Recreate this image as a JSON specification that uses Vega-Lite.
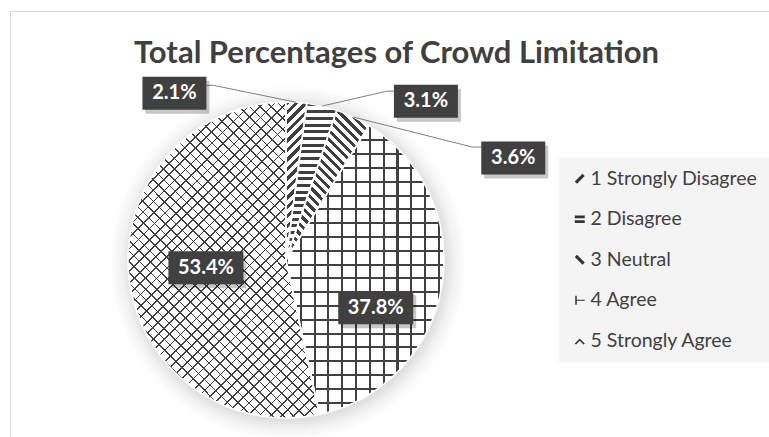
{
  "$schema": "https://vega.github.io/schema/vega-lite/v6.json",
  "width": 759,
  "height": 426,
  "autosize": {"type": "none"},
  "padding": {"left": 10, "top": 11, "right": 0, "bottom": 0},
  "background": "#ffffff",
  "config": {"view": {"stroke": "#d9d9d9", "strokeWidth": 1}, "font": "Lato"},
  "title": {
    "text": "Total Percentages of Crowd Limitation",
    "font": "Lato", "fontSize": 31, "fontWeight": "bold", "color": "#404040",
    "anchor": "middle", "frame": "group", "baseline": "alphabetic", "offset": -83, "dx": 7
  },
  "data": {"values": [
    {"category": "1 Strongly Disagree", "share": 0.021},
    {"category": "2 Disagree", "share": 0.031},
    {"category": "3 Neutral", "share": 0.036},
    {"category": "4 Agree", "share": 0.378},
    {"category": "5 Strongly Agree", "share": 0.534}
  ]},
  "transform": [
    {"window": [{"op": "sum", "field": "share", "as": "cum"}], "sort": [{"field": "category", "order": "ascending"}], "frame": [null, 0]},
    {"calculate": "datum.cum - datum.share", "as": "cum0"},
    {"calculate": "2 * PI * (datum.cum0 + datum.share / 2)", "as": "mid_angle"},
    {"calculate": "158 * sin(datum.mid_angle)", "as": "rim_x"},
    {"calculate": "158 * cos(datum.mid_angle)", "as": "rim_y"},
    {"calculate": "datum.rim_x + (datum.category === '1 Strongly Disagree' ? -122 : datum.category === '2 Disagree' ? 104 : datum.category === '3 Neutral' ? 160 : datum.category === '4 Agree' ? -66 : 77)", "as": "label_x"},
    {"calculate": "datum.rim_y + (datum.category === '1 Strongly Disagree' ? 9 : datum.category === '2 Disagree' ? 5 : datum.category === '3 Neutral' ? -41 : datum.category === '4 Agree' ? -21 : 9)", "as": "label_y"},
    {"calculate": "datum.share < 0.1 ? 32 : 37.5", "as": "box_half"}
  ],
  "layer": [
    {
      "transform": [{"aggregate": [{"op": "min", "field": "cum0", "as": "pie_start"}, {"op": "max", "field": "cum", "as": "pie_end"}]}],
      "mark": {
        "type": "arc", "outerRadius": 178, "xOffset": 2, "yOffset": 3,
        "fill": {"gradient": "radial", "x1": 0.5, "y1": 0.5, "r1": 0, "x2": 0.5, "y2": 0.5, "r2": 0.5,
          "stops": [{"offset": 0, "color": "#e0e0e0"}, {"offset": 0.885, "color": "#e0e0e0"}, {"offset": 0.935, "color": "#f2f2f2"}, {"offset": 1, "color": "#ffffff"}]}
      },
      "encoding": {
        "x": {"datum": 0, "type": "quantitative", "scale": {"domain": [-276, 483], "nice": false, "zero": false}, "axis": null},
        "y": {"datum": 0, "type": "quantitative", "scale": {"domain": [-177, 249], "nice": false, "zero": false}, "axis": null},
        "theta": {"field": "pie_start", "type": "quantitative", "stack": null, "scale": {"domain": [0, 1]}},
        "theta2": {"field": "pie_end"}
      }
    },
    {
      "encoding": {
        "x": {"datum": 0, "type": "quantitative", "scale": {"domain": [-276, 483], "nice": false, "zero": false}, "axis": null},
        "y": {"datum": 0, "type": "quantitative", "scale": {"domain": [-177, 249], "nice": false, "zero": false}, "axis": null},
        "theta": {"field": "cum0", "type": "quantitative", "stack": null, "scale": {"domain": [0, 1]}},
        "theta2": {"field": "cum"}
      },
      "layer": [
        {
          "mark": {"type": "arc", "outerRadius": 100},
          "encoding": {
            "color": {
              "field": "category", "type": "nominal", "scale": {"range": ["#333333"]},
              "legend": {
                "title": null, "orient": "none", "legendX": 549, "legendY": 147,
                "fillColor": "#f4f4f4", "padding": 11,
                "labelFont": "Lato", "labelFontSize": 19.5, "labelColor": "#404040", "labelLimit": 300,
                "labelOffset": 1, "rowPadding": 19.5, "symbolSize": 100,
                "encode": {"symbols": {"update": {
                  "shape": {"signal": "datum.value === '1 Strongly Disagree' ? 'M-1,0.55L0.55,-1L1,-0.55L-0.55,1Z' : datum.value === '2 Disagree' ? 'M-1,-0.75H1V-0.2H-1ZM-1,0.2H1V0.75H-1Z' : datum.value === '3 Neutral' ? 'M-1,-0.55L-0.55,-1L1,0.55L0.55,1Z' : datum.value === '4 Agree' ? 'M-0.9,-0.9H-0.6V-0.12H1V0.12H-0.6V0.9H-0.9Z' : 'M-1,0.55L0,-0.45L1,0.55L0.75,0.75L0,0L-0.75,0.75Z'"},
                  "strokeWidth": {"value": 0}
                }}}
              }
            }
          }
        },
        {"mark": {"type": "arc", "outerRadius": 158, "fill": "#ffffff"}},
        {
          "mark": {"type": "arc", "outerRadius": 158},
          "encoding": {
            "fill": {
              "condition": [
                {"test": "datum.category === '1 Strongly Disagree'", "value": {"gradient": "linear", "x1": 0, "y1": 0, "x2": 0.186, "y2": 1.415, "stops": [
                  {"offset":0,"color":"#3f3f3f"},{"offset":0.0188,"color":"#3f3f3f"},{"offset":0.0188,"color":"#fff"},{"offset":0.0417,"color":"#fff"},
                  {"offset":0.0417,"color":"#3f3f3f"},{"offset":0.0604,"color":"#3f3f3f"},{"offset":0.0604,"color":"#fff"},{"offset":0.0833,"color":"#fff"},
                  {"offset":0.0833,"color":"#3f3f3f"},{"offset":0.1021,"color":"#3f3f3f"},{"offset":0.1021,"color":"#fff"},{"offset":0.125,"color":"#fff"},
                  {"offset":0.125,"color":"#3f3f3f"},{"offset":0.1438,"color":"#3f3f3f"},{"offset":0.1438,"color":"#fff"},{"offset":0.1667,"color":"#fff"},
                  {"offset":0.1667,"color":"#3f3f3f"},{"offset":0.1854,"color":"#3f3f3f"},{"offset":0.1854,"color":"#fff"},{"offset":0.2083,"color":"#fff"},
                  {"offset":0.2083,"color":"#3f3f3f"},{"offset":0.2271,"color":"#3f3f3f"},{"offset":0.2271,"color":"#fff"},{"offset":0.25,"color":"#fff"},
                  {"offset":0.25,"color":"#3f3f3f"},{"offset":0.2688,"color":"#3f3f3f"},{"offset":0.2688,"color":"#fff"},{"offset":0.2917,"color":"#fff"},
                  {"offset":0.2917,"color":"#3f3f3f"},{"offset":0.3104,"color":"#3f3f3f"},{"offset":0.3104,"color":"#fff"},{"offset":0.3333,"color":"#fff"},
                  {"offset":0.3333,"color":"#3f3f3f"},{"offset":0.3521,"color":"#3f3f3f"},{"offset":0.3521,"color":"#fff"},{"offset":0.375,"color":"#fff"},
                  {"offset":0.375,"color":"#3f3f3f"},{"offset":0.3938,"color":"#3f3f3f"},{"offset":0.3938,"color":"#fff"},{"offset":0.4167,"color":"#fff"},
                  {"offset":0.4167,"color":"#3f3f3f"},{"offset":0.4354,"color":"#3f3f3f"},{"offset":0.4354,"color":"#fff"},{"offset":0.4583,"color":"#fff"},
                  {"offset":0.4583,"color":"#3f3f3f"},{"offset":0.4771,"color":"#3f3f3f"},{"offset":0.4771,"color":"#fff"},{"offset":0.5,"color":"#fff"},
                  {"offset":0.5,"color":"#3f3f3f"},{"offset":0.5188,"color":"#3f3f3f"},{"offset":0.5188,"color":"#fff"},{"offset":0.5417,"color":"#fff"},
                  {"offset":0.5417,"color":"#3f3f3f"},{"offset":0.5604,"color":"#3f3f3f"},{"offset":0.5604,"color":"#fff"},{"offset":0.5833,"color":"#fff"},
                  {"offset":0.5833,"color":"#3f3f3f"},{"offset":0.6021,"color":"#3f3f3f"},{"offset":0.6021,"color":"#fff"},{"offset":0.625,"color":"#fff"},
                  {"offset":0.625,"color":"#3f3f3f"},{"offset":0.6438,"color":"#3f3f3f"},{"offset":0.6438,"color":"#fff"},{"offset":0.6667,"color":"#fff"},
                  {"offset":0.6667,"color":"#3f3f3f"},{"offset":0.6854,"color":"#3f3f3f"},{"offset":0.6854,"color":"#fff"},{"offset":0.7083,"color":"#fff"},
                  {"offset":0.7083,"color":"#3f3f3f"},{"offset":0.7271,"color":"#3f3f3f"},{"offset":0.7271,"color":"#fff"},{"offset":0.75,"color":"#fff"},
                  {"offset":0.75,"color":"#3f3f3f"},{"offset":0.7688,"color":"#3f3f3f"},{"offset":0.7688,"color":"#fff"},{"offset":0.7917,"color":"#fff"},
                  {"offset":0.7917,"color":"#3f3f3f"},{"offset":0.8104,"color":"#3f3f3f"},{"offset":0.8104,"color":"#fff"},{"offset":0.8333,"color":"#fff"},
                  {"offset":0.8333,"color":"#3f3f3f"},{"offset":0.8521,"color":"#3f3f3f"},{"offset":0.8521,"color":"#fff"},{"offset":0.875,"color":"#fff"},
                  {"offset":0.875,"color":"#3f3f3f"},{"offset":0.8938,"color":"#3f3f3f"},{"offset":0.8938,"color":"#fff"},{"offset":0.9167,"color":"#fff"},
                  {"offset":0.9167,"color":"#3f3f3f"},{"offset":0.9354,"color":"#3f3f3f"},{"offset":0.9354,"color":"#fff"},{"offset":0.9583,"color":"#fff"},
                  {"offset":0.9583,"color":"#3f3f3f"},{"offset":0.9771,"color":"#3f3f3f"},{"offset":0.9771,"color":"#fff"},{"offset":1,"color":"#fff"}]}},
                {"test": "datum.category === '2 Disagree'", "value": {"gradient": "linear", "x1": 0, "y1": 0, "x2": 0, "y2": 1.03, "stops": [
                  {"offset":0,"color":"#3f3f3f"},{"offset":0.0188,"color":"#3f3f3f"},{"offset":0.0188,"color":"#fff"},{"offset":0.0417,"color":"#fff"},
                  {"offset":0.0417,"color":"#3f3f3f"},{"offset":0.0604,"color":"#3f3f3f"},{"offset":0.0604,"color":"#fff"},{"offset":0.0833,"color":"#fff"},
                  {"offset":0.0833,"color":"#3f3f3f"},{"offset":0.1021,"color":"#3f3f3f"},{"offset":0.1021,"color":"#fff"},{"offset":0.125,"color":"#fff"},
                  {"offset":0.125,"color":"#3f3f3f"},{"offset":0.1438,"color":"#3f3f3f"},{"offset":0.1438,"color":"#fff"},{"offset":0.1667,"color":"#fff"},
                  {"offset":0.1667,"color":"#3f3f3f"},{"offset":0.1854,"color":"#3f3f3f"},{"offset":0.1854,"color":"#fff"},{"offset":0.2083,"color":"#fff"},
                  {"offset":0.2083,"color":"#3f3f3f"},{"offset":0.2271,"color":"#3f3f3f"},{"offset":0.2271,"color":"#fff"},{"offset":0.25,"color":"#fff"},
                  {"offset":0.25,"color":"#3f3f3f"},{"offset":0.2688,"color":"#3f3f3f"},{"offset":0.2688,"color":"#fff"},{"offset":0.2917,"color":"#fff"},
                  {"offset":0.2917,"color":"#3f3f3f"},{"offset":0.3104,"color":"#3f3f3f"},{"offset":0.3104,"color":"#fff"},{"offset":0.3333,"color":"#fff"},
                  {"offset":0.3333,"color":"#3f3f3f"},{"offset":0.3521,"color":"#3f3f3f"},{"offset":0.3521,"color":"#fff"},{"offset":0.375,"color":"#fff"},
                  {"offset":0.375,"color":"#3f3f3f"},{"offset":0.3938,"color":"#3f3f3f"},{"offset":0.3938,"color":"#fff"},{"offset":0.4167,"color":"#fff"},
                  {"offset":0.4167,"color":"#3f3f3f"},{"offset":0.4354,"color":"#3f3f3f"},{"offset":0.4354,"color":"#fff"},{"offset":0.4583,"color":"#fff"},
                  {"offset":0.4583,"color":"#3f3f3f"},{"offset":0.4771,"color":"#3f3f3f"},{"offset":0.4771,"color":"#fff"},{"offset":0.5,"color":"#fff"},
                  {"offset":0.5,"color":"#3f3f3f"},{"offset":0.5188,"color":"#3f3f3f"},{"offset":0.5188,"color":"#fff"},{"offset":0.5417,"color":"#fff"},
                  {"offset":0.5417,"color":"#3f3f3f"},{"offset":0.5604,"color":"#3f3f3f"},{"offset":0.5604,"color":"#fff"},{"offset":0.5833,"color":"#fff"},
                  {"offset":0.5833,"color":"#3f3f3f"},{"offset":0.6021,"color":"#3f3f3f"},{"offset":0.6021,"color":"#fff"},{"offset":0.625,"color":"#fff"},
                  {"offset":0.625,"color":"#3f3f3f"},{"offset":0.6438,"color":"#3f3f3f"},{"offset":0.6438,"color":"#fff"},{"offset":0.6667,"color":"#fff"},
                  {"offset":0.6667,"color":"#3f3f3f"},{"offset":0.6854,"color":"#3f3f3f"},{"offset":0.6854,"color":"#fff"},{"offset":0.7083,"color":"#fff"},
                  {"offset":0.7083,"color":"#3f3f3f"},{"offset":0.7271,"color":"#3f3f3f"},{"offset":0.7271,"color":"#fff"},{"offset":0.75,"color":"#fff"},
                  {"offset":0.75,"color":"#3f3f3f"},{"offset":0.7688,"color":"#3f3f3f"},{"offset":0.7688,"color":"#fff"},{"offset":0.7917,"color":"#fff"},
                  {"offset":0.7917,"color":"#3f3f3f"},{"offset":0.8104,"color":"#3f3f3f"},{"offset":0.8104,"color":"#fff"},{"offset":0.8333,"color":"#fff"},
                  {"offset":0.8333,"color":"#3f3f3f"},{"offset":0.8521,"color":"#3f3f3f"},{"offset":0.8521,"color":"#fff"},{"offset":0.875,"color":"#fff"},
                  {"offset":0.875,"color":"#3f3f3f"},{"offset":0.8938,"color":"#3f3f3f"},{"offset":0.8938,"color":"#fff"},{"offset":0.9167,"color":"#fff"},
                  {"offset":0.9167,"color":"#3f3f3f"},{"offset":0.9354,"color":"#3f3f3f"},{"offset":0.9354,"color":"#fff"},{"offset":0.9583,"color":"#fff"},
                  {"offset":0.9583,"color":"#3f3f3f"},{"offset":0.9771,"color":"#3f3f3f"},{"offset":0.9771,"color":"#fff"},{"offset":1,"color":"#fff"}]}},
                {"test": "datum.category === '3 Neutral'", "value": {"gradient": "linear", "x1": 0, "y1": 1, "x2": 0.645, "y2": -0.162, "stops": [
                  {"offset":0,"color":"#3f3f3f"},{"offset":0.0188,"color":"#3f3f3f"},{"offset":0.0188,"color":"#fff"},{"offset":0.0417,"color":"#fff"},
                  {"offset":0.0417,"color":"#3f3f3f"},{"offset":0.0604,"color":"#3f3f3f"},{"offset":0.0604,"color":"#fff"},{"offset":0.0833,"color":"#fff"},
                  {"offset":0.0833,"color":"#3f3f3f"},{"offset":0.1021,"color":"#3f3f3f"},{"offset":0.1021,"color":"#fff"},{"offset":0.125,"color":"#fff"},
                  {"offset":0.125,"color":"#3f3f3f"},{"offset":0.1438,"color":"#3f3f3f"},{"offset":0.1438,"color":"#fff"},{"offset":0.1667,"color":"#fff"},
                  {"offset":0.1667,"color":"#3f3f3f"},{"offset":0.1854,"color":"#3f3f3f"},{"offset":0.1854,"color":"#fff"},{"offset":0.2083,"color":"#fff"},
                  {"offset":0.2083,"color":"#3f3f3f"},{"offset":0.2271,"color":"#3f3f3f"},{"offset":0.2271,"color":"#fff"},{"offset":0.25,"color":"#fff"},
                  {"offset":0.25,"color":"#3f3f3f"},{"offset":0.2688,"color":"#3f3f3f"},{"offset":0.2688,"color":"#fff"},{"offset":0.2917,"color":"#fff"},
                  {"offset":0.2917,"color":"#3f3f3f"},{"offset":0.3104,"color":"#3f3f3f"},{"offset":0.3104,"color":"#fff"},{"offset":0.3333,"color":"#fff"},
                  {"offset":0.3333,"color":"#3f3f3f"},{"offset":0.3521,"color":"#3f3f3f"},{"offset":0.3521,"color":"#fff"},{"offset":0.375,"color":"#fff"},
                  {"offset":0.375,"color":"#3f3f3f"},{"offset":0.3938,"color":"#3f3f3f"},{"offset":0.3938,"color":"#fff"},{"offset":0.4167,"color":"#fff"},
                  {"offset":0.4167,"color":"#3f3f3f"},{"offset":0.4354,"color":"#3f3f3f"},{"offset":0.4354,"color":"#fff"},{"offset":0.4583,"color":"#fff"},
                  {"offset":0.4583,"color":"#3f3f3f"},{"offset":0.4771,"color":"#3f3f3f"},{"offset":0.4771,"color":"#fff"},{"offset":0.5,"color":"#fff"},
                  {"offset":0.5,"color":"#3f3f3f"},{"offset":0.5188,"color":"#3f3f3f"},{"offset":0.5188,"color":"#fff"},{"offset":0.5417,"color":"#fff"},
                  {"offset":0.5417,"color":"#3f3f3f"},{"offset":0.5604,"color":"#3f3f3f"},{"offset":0.5604,"color":"#fff"},{"offset":0.5833,"color":"#fff"},
                  {"offset":0.5833,"color":"#3f3f3f"},{"offset":0.6021,"color":"#3f3f3f"},{"offset":0.6021,"color":"#fff"},{"offset":0.625,"color":"#fff"},
                  {"offset":0.625,"color":"#3f3f3f"},{"offset":0.6438,"color":"#3f3f3f"},{"offset":0.6438,"color":"#fff"},{"offset":0.6667,"color":"#fff"},
                  {"offset":0.6667,"color":"#3f3f3f"},{"offset":0.6854,"color":"#3f3f3f"},{"offset":0.6854,"color":"#fff"},{"offset":0.7083,"color":"#fff"},
                  {"offset":0.7083,"color":"#3f3f3f"},{"offset":0.7271,"color":"#3f3f3f"},{"offset":0.7271,"color":"#fff"},{"offset":0.75,"color":"#fff"},
                  {"offset":0.75,"color":"#3f3f3f"},{"offset":0.7688,"color":"#3f3f3f"},{"offset":0.7688,"color":"#fff"},{"offset":0.7917,"color":"#fff"},
                  {"offset":0.7917,"color":"#3f3f3f"},{"offset":0.8104,"color":"#3f3f3f"},{"offset":0.8104,"color":"#fff"},{"offset":0.8333,"color":"#fff"},
                  {"offset":0.8333,"color":"#3f3f3f"},{"offset":0.8521,"color":"#3f3f3f"},{"offset":0.8521,"color":"#fff"},{"offset":0.875,"color":"#fff"},
                  {"offset":0.875,"color":"#3f3f3f"},{"offset":0.8938,"color":"#3f3f3f"},{"offset":0.8938,"color":"#fff"},{"offset":0.9167,"color":"#fff"},
                  {"offset":0.9167,"color":"#3f3f3f"},{"offset":0.9354,"color":"#3f3f3f"},{"offset":0.9354,"color":"#fff"},{"offset":0.9583,"color":"#fff"},
                  {"offset":0.9583,"color":"#3f3f3f"},{"offset":0.9771,"color":"#3f3f3f"},{"offset":0.9771,"color":"#fff"},{"offset":1,"color":"#fff"}]}},
                {"test": "datum.category === '4 Agree'", "value": {"gradient": "linear", "x1": 0, "y1": 0, "x2": 3.146, "y2": 0, "stops": [
                  {"offset":0,"color":"#404040"},{"offset":0.0042,"color":"#404040"},{"offset":0.0042,"color":"#0000"},{"offset":0.0278,"color":"#0000"},
                  {"offset":0.0278,"color":"#404040"},{"offset":0.032,"color":"#404040"},{"offset":0.032,"color":"#0000"},{"offset":0.0556,"color":"#0000"},
                  {"offset":0.0556,"color":"#404040"},{"offset":0.0598,"color":"#404040"},{"offset":0.0598,"color":"#0000"},{"offset":0.0833,"color":"#0000"},
                  {"offset":0.0833,"color":"#404040"},{"offset":0.0875,"color":"#404040"},{"offset":0.0875,"color":"#0000"},{"offset":0.1111,"color":"#0000"},
                  {"offset":0.1111,"color":"#404040"},{"offset":0.1153,"color":"#404040"},{"offset":0.1153,"color":"#0000"},{"offset":0.1389,"color":"#0000"},
                  {"offset":0.1389,"color":"#404040"},{"offset":0.1431,"color":"#404040"},{"offset":0.1431,"color":"#0000"},{"offset":0.1667,"color":"#0000"},
                  {"offset":0.1667,"color":"#404040"},{"offset":0.1709,"color":"#404040"},{"offset":0.1709,"color":"#0000"},{"offset":0.1944,"color":"#0000"},
                  {"offset":0.1944,"color":"#404040"},{"offset":0.1986,"color":"#404040"},{"offset":0.1986,"color":"#0000"},{"offset":0.2222,"color":"#0000"},
                  {"offset":0.2222,"color":"#404040"},{"offset":0.2264,"color":"#404040"},{"offset":0.2264,"color":"#0000"},{"offset":0.25,"color":"#0000"},
                  {"offset":0.25,"color":"#404040"},{"offset":0.2542,"color":"#404040"},{"offset":0.2542,"color":"#0000"},{"offset":0.2778,"color":"#0000"},
                  {"offset":0.2778,"color":"#404040"},{"offset":0.282,"color":"#404040"},{"offset":0.282,"color":"#0000"},{"offset":0.3056,"color":"#0000"},
                  {"offset":0.3056,"color":"#404040"},{"offset":0.3098,"color":"#404040"},{"offset":0.3098,"color":"#0000"},{"offset":0.3333,"color":"#0000"},
                  {"offset":0.3333,"color":"#404040"},{"offset":0.3375,"color":"#404040"},{"offset":0.3375,"color":"#0000"},{"offset":0.3611,"color":"#0000"},
                  {"offset":0.3611,"color":"#404040"},{"offset":0.3653,"color":"#404040"},{"offset":0.3653,"color":"#0000"},{"offset":0.3889,"color":"#0000"},
                  {"offset":0.3889,"color":"#404040"},{"offset":0.3931,"color":"#404040"},{"offset":0.3931,"color":"#0000"},{"offset":0.4167,"color":"#0000"},
                  {"offset":0.4167,"color":"#404040"},{"offset":0.4209,"color":"#404040"},{"offset":0.4209,"color":"#0000"},{"offset":0.4444,"color":"#0000"},
                  {"offset":0.4444,"color":"#404040"},{"offset":0.4486,"color":"#404040"},{"offset":0.4486,"color":"#0000"},{"offset":0.4722,"color":"#0000"},
                  {"offset":0.4722,"color":"#404040"},{"offset":0.4764,"color":"#404040"},{"offset":0.4764,"color":"#0000"},{"offset":0.5,"color":"#0000"},
                  {"offset":0.5,"color":"#404040"},{"offset":0.5042,"color":"#404040"},{"offset":0.5042,"color":"#0000"},{"offset":0.5278,"color":"#0000"},
                  {"offset":0.5278,"color":"#404040"},{"offset":0.532,"color":"#404040"},{"offset":0.532,"color":"#0000"},{"offset":0.5556,"color":"#0000"},
                  {"offset":0.5556,"color":"#404040"},{"offset":0.5598,"color":"#404040"},{"offset":0.5598,"color":"#0000"},{"offset":0.5833,"color":"#0000"},
                  {"offset":0.5833,"color":"#404040"},{"offset":0.5875,"color":"#404040"},{"offset":0.5875,"color":"#0000"},{"offset":0.6111,"color":"#0000"},
                  {"offset":0.6111,"color":"#404040"},{"offset":0.6153,"color":"#404040"},{"offset":0.6153,"color":"#0000"},{"offset":0.6389,"color":"#0000"},
                  {"offset":0.6389,"color":"#404040"},{"offset":0.6431,"color":"#404040"},{"offset":0.6431,"color":"#0000"},{"offset":0.6667,"color":"#0000"},
                  {"offset":0.6667,"color":"#404040"},{"offset":0.6709,"color":"#404040"},{"offset":0.6709,"color":"#0000"},{"offset":0.6944,"color":"#0000"},
                  {"offset":0.6944,"color":"#404040"},{"offset":0.6986,"color":"#404040"},{"offset":0.6986,"color":"#0000"},{"offset":0.7222,"color":"#0000"},
                  {"offset":0.7222,"color":"#404040"},{"offset":0.7264,"color":"#404040"},{"offset":0.7264,"color":"#0000"},{"offset":0.75,"color":"#0000"},
                  {"offset":0.75,"color":"#404040"},{"offset":0.7542,"color":"#404040"},{"offset":0.7542,"color":"#0000"},{"offset":0.7778,"color":"#0000"},
                  {"offset":0.7778,"color":"#404040"},{"offset":0.782,"color":"#404040"},{"offset":0.782,"color":"#0000"},{"offset":0.8056,"color":"#0000"},
                  {"offset":0.8056,"color":"#404040"},{"offset":0.8098,"color":"#404040"},{"offset":0.8098,"color":"#0000"},{"offset":0.8333,"color":"#0000"},
                  {"offset":0.8333,"color":"#404040"},{"offset":0.8375,"color":"#404040"},{"offset":0.8375,"color":"#0000"},{"offset":0.8611,"color":"#0000"},
                  {"offset":0.8611,"color":"#404040"},{"offset":0.8653,"color":"#404040"},{"offset":0.8653,"color":"#0000"},{"offset":0.8889,"color":"#0000"},
                  {"offset":0.8889,"color":"#404040"},{"offset":0.8931,"color":"#404040"},{"offset":0.8931,"color":"#0000"},{"offset":0.9167,"color":"#0000"},
                  {"offset":0.9167,"color":"#404040"},{"offset":0.9209,"color":"#404040"},{"offset":0.9209,"color":"#0000"},{"offset":0.9444,"color":"#0000"},
                  {"offset":0.9444,"color":"#404040"},{"offset":0.9486,"color":"#404040"},{"offset":0.9486,"color":"#0000"},{"offset":0.9722,"color":"#0000"},
                  {"offset":0.9722,"color":"#404040"},{"offset":0.9764,"color":"#404040"},{"offset":0.9764,"color":"#0000"},{"offset":1,"color":"#0000"}]}},
                {"test": "datum.category === '5 Strongly Agree'", "value": {"gradient": "linear", "x1": 0.24, "y1": 0.139, "x2": 0.817, "y2": 1.091, "stops": [
                  {"offset":0,"color":"#404040"},{"offset":0.0042,"color":"#404040"},{"offset":0.0042,"color":"#0000"},{"offset":0.0278,"color":"#0000"},
                  {"offset":0.0278,"color":"#404040"},{"offset":0.032,"color":"#404040"},{"offset":0.032,"color":"#0000"},{"offset":0.0556,"color":"#0000"},
                  {"offset":0.0556,"color":"#404040"},{"offset":0.0598,"color":"#404040"},{"offset":0.0598,"color":"#0000"},{"offset":0.0833,"color":"#0000"},
                  {"offset":0.0833,"color":"#404040"},{"offset":0.0875,"color":"#404040"},{"offset":0.0875,"color":"#0000"},{"offset":0.1111,"color":"#0000"},
                  {"offset":0.1111,"color":"#404040"},{"offset":0.1153,"color":"#404040"},{"offset":0.1153,"color":"#0000"},{"offset":0.1389,"color":"#0000"},
                  {"offset":0.1389,"color":"#404040"},{"offset":0.1431,"color":"#404040"},{"offset":0.1431,"color":"#0000"},{"offset":0.1667,"color":"#0000"},
                  {"offset":0.1667,"color":"#404040"},{"offset":0.1709,"color":"#404040"},{"offset":0.1709,"color":"#0000"},{"offset":0.1944,"color":"#0000"},
                  {"offset":0.1944,"color":"#404040"},{"offset":0.1986,"color":"#404040"},{"offset":0.1986,"color":"#0000"},{"offset":0.2222,"color":"#0000"},
                  {"offset":0.2222,"color":"#404040"},{"offset":0.2264,"color":"#404040"},{"offset":0.2264,"color":"#0000"},{"offset":0.25,"color":"#0000"},
                  {"offset":0.25,"color":"#404040"},{"offset":0.2542,"color":"#404040"},{"offset":0.2542,"color":"#0000"},{"offset":0.2778,"color":"#0000"},
                  {"offset":0.2778,"color":"#404040"},{"offset":0.282,"color":"#404040"},{"offset":0.282,"color":"#0000"},{"offset":0.3056,"color":"#0000"},
                  {"offset":0.3056,"color":"#404040"},{"offset":0.3098,"color":"#404040"},{"offset":0.3098,"color":"#0000"},{"offset":0.3333,"color":"#0000"},
                  {"offset":0.3333,"color":"#404040"},{"offset":0.3375,"color":"#404040"},{"offset":0.3375,"color":"#0000"},{"offset":0.3611,"color":"#0000"},
                  {"offset":0.3611,"color":"#404040"},{"offset":0.3653,"color":"#404040"},{"offset":0.3653,"color":"#0000"},{"offset":0.3889,"color":"#0000"},
                  {"offset":0.3889,"color":"#404040"},{"offset":0.3931,"color":"#404040"},{"offset":0.3931,"color":"#0000"},{"offset":0.4167,"color":"#0000"},
                  {"offset":0.4167,"color":"#404040"},{"offset":0.4209,"color":"#404040"},{"offset":0.4209,"color":"#0000"},{"offset":0.4444,"color":"#0000"},
                  {"offset":0.4444,"color":"#404040"},{"offset":0.4486,"color":"#404040"},{"offset":0.4486,"color":"#0000"},{"offset":0.4722,"color":"#0000"},
                  {"offset":0.4722,"color":"#404040"},{"offset":0.4764,"color":"#404040"},{"offset":0.4764,"color":"#0000"},{"offset":0.5,"color":"#0000"},
                  {"offset":0.5,"color":"#404040"},{"offset":0.5042,"color":"#404040"},{"offset":0.5042,"color":"#0000"},{"offset":0.5278,"color":"#0000"},
                  {"offset":0.5278,"color":"#404040"},{"offset":0.532,"color":"#404040"},{"offset":0.532,"color":"#0000"},{"offset":0.5556,"color":"#0000"},
                  {"offset":0.5556,"color":"#404040"},{"offset":0.5598,"color":"#404040"},{"offset":0.5598,"color":"#0000"},{"offset":0.5833,"color":"#0000"},
                  {"offset":0.5833,"color":"#404040"},{"offset":0.5875,"color":"#404040"},{"offset":0.5875,"color":"#0000"},{"offset":0.6111,"color":"#0000"},
                  {"offset":0.6111,"color":"#404040"},{"offset":0.6153,"color":"#404040"},{"offset":0.6153,"color":"#0000"},{"offset":0.6389,"color":"#0000"},
                  {"offset":0.6389,"color":"#404040"},{"offset":0.6431,"color":"#404040"},{"offset":0.6431,"color":"#0000"},{"offset":0.6667,"color":"#0000"},
                  {"offset":0.6667,"color":"#404040"},{"offset":0.6709,"color":"#404040"},{"offset":0.6709,"color":"#0000"},{"offset":0.6944,"color":"#0000"},
                  {"offset":0.6944,"color":"#404040"},{"offset":0.6986,"color":"#404040"},{"offset":0.6986,"color":"#0000"},{"offset":0.7222,"color":"#0000"},
                  {"offset":0.7222,"color":"#404040"},{"offset":0.7264,"color":"#404040"},{"offset":0.7264,"color":"#0000"},{"offset":0.75,"color":"#0000"},
                  {"offset":0.75,"color":"#404040"},{"offset":0.7542,"color":"#404040"},{"offset":0.7542,"color":"#0000"},{"offset":0.7778,"color":"#0000"},
                  {"offset":0.7778,"color":"#404040"},{"offset":0.782,"color":"#404040"},{"offset":0.782,"color":"#0000"},{"offset":0.8056,"color":"#0000"},
                  {"offset":0.8056,"color":"#404040"},{"offset":0.8098,"color":"#404040"},{"offset":0.8098,"color":"#0000"},{"offset":0.8333,"color":"#0000"},
                  {"offset":0.8333,"color":"#404040"},{"offset":0.8375,"color":"#404040"},{"offset":0.8375,"color":"#0000"},{"offset":0.8611,"color":"#0000"},
                  {"offset":0.8611,"color":"#404040"},{"offset":0.8653,"color":"#404040"},{"offset":0.8653,"color":"#0000"},{"offset":0.8889,"color":"#0000"},
                  {"offset":0.8889,"color":"#404040"},{"offset":0.8931,"color":"#404040"},{"offset":0.8931,"color":"#0000"},{"offset":0.9167,"color":"#0000"},
                  {"offset":0.9167,"color":"#404040"},{"offset":0.9209,"color":"#404040"},{"offset":0.9209,"color":"#0000"},{"offset":0.9444,"color":"#0000"},
                  {"offset":0.9444,"color":"#404040"},{"offset":0.9486,"color":"#404040"},{"offset":0.9486,"color":"#0000"},{"offset":0.9722,"color":"#0000"},
                  {"offset":0.9722,"color":"#404040"},{"offset":0.9764,"color":"#404040"},{"offset":0.9764,"color":"#0000"},{"offset":1,"color":"#0000"}]}}
              ],
              "value": "transparent"
            }
          }
        },
        {
          "mark": {"type": "arc", "outerRadius": 158},
          "encoding": {
            "fill": {
              "condition": [
                {"test": "datum.category === '4 Agree'", "value": {"gradient": "linear", "x1": 0, "y1": 0, "x2": 0, "y2": 1.72, "stops": [
                  {"offset":0,"color":"#404040"},{"offset":0.0042,"color":"#404040"},{"offset":0.0042,"color":"#0000"},{"offset":0.0278,"color":"#0000"},
                  {"offset":0.0278,"color":"#404040"},{"offset":0.032,"color":"#404040"},{"offset":0.032,"color":"#0000"},{"offset":0.0556,"color":"#0000"},
                  {"offset":0.0556,"color":"#404040"},{"offset":0.0598,"color":"#404040"},{"offset":0.0598,"color":"#0000"},{"offset":0.0833,"color":"#0000"},
                  {"offset":0.0833,"color":"#404040"},{"offset":0.0875,"color":"#404040"},{"offset":0.0875,"color":"#0000"},{"offset":0.1111,"color":"#0000"},
                  {"offset":0.1111,"color":"#404040"},{"offset":0.1153,"color":"#404040"},{"offset":0.1153,"color":"#0000"},{"offset":0.1389,"color":"#0000"},
                  {"offset":0.1389,"color":"#404040"},{"offset":0.1431,"color":"#404040"},{"offset":0.1431,"color":"#0000"},{"offset":0.1667,"color":"#0000"},
                  {"offset":0.1667,"color":"#404040"},{"offset":0.1709,"color":"#404040"},{"offset":0.1709,"color":"#0000"},{"offset":0.1944,"color":"#0000"},
                  {"offset":0.1944,"color":"#404040"},{"offset":0.1986,"color":"#404040"},{"offset":0.1986,"color":"#0000"},{"offset":0.2222,"color":"#0000"},
                  {"offset":0.2222,"color":"#404040"},{"offset":0.2264,"color":"#404040"},{"offset":0.2264,"color":"#0000"},{"offset":0.25,"color":"#0000"},
                  {"offset":0.25,"color":"#404040"},{"offset":0.2542,"color":"#404040"},{"offset":0.2542,"color":"#0000"},{"offset":0.2778,"color":"#0000"},
                  {"offset":0.2778,"color":"#404040"},{"offset":0.282,"color":"#404040"},{"offset":0.282,"color":"#0000"},{"offset":0.3056,"color":"#0000"},
                  {"offset":0.3056,"color":"#404040"},{"offset":0.3098,"color":"#404040"},{"offset":0.3098,"color":"#0000"},{"offset":0.3333,"color":"#0000"},
                  {"offset":0.3333,"color":"#404040"},{"offset":0.3375,"color":"#404040"},{"offset":0.3375,"color":"#0000"},{"offset":0.3611,"color":"#0000"},
                  {"offset":0.3611,"color":"#404040"},{"offset":0.3653,"color":"#404040"},{"offset":0.3653,"color":"#0000"},{"offset":0.3889,"color":"#0000"},
                  {"offset":0.3889,"color":"#404040"},{"offset":0.3931,"color":"#404040"},{"offset":0.3931,"color":"#0000"},{"offset":0.4167,"color":"#0000"},
                  {"offset":0.4167,"color":"#404040"},{"offset":0.4209,"color":"#404040"},{"offset":0.4209,"color":"#0000"},{"offset":0.4444,"color":"#0000"},
                  {"offset":0.4444,"color":"#404040"},{"offset":0.4486,"color":"#404040"},{"offset":0.4486,"color":"#0000"},{"offset":0.4722,"color":"#0000"},
                  {"offset":0.4722,"color":"#404040"},{"offset":0.4764,"color":"#404040"},{"offset":0.4764,"color":"#0000"},{"offset":0.5,"color":"#0000"},
                  {"offset":0.5,"color":"#404040"},{"offset":0.5042,"color":"#404040"},{"offset":0.5042,"color":"#0000"},{"offset":0.5278,"color":"#0000"},
                  {"offset":0.5278,"color":"#404040"},{"offset":0.532,"color":"#404040"},{"offset":0.532,"color":"#0000"},{"offset":0.5556,"color":"#0000"},
                  {"offset":0.5556,"color":"#404040"},{"offset":0.5598,"color":"#404040"},{"offset":0.5598,"color":"#0000"},{"offset":0.5833,"color":"#0000"},
                  {"offset":0.5833,"color":"#404040"},{"offset":0.5875,"color":"#404040"},{"offset":0.5875,"color":"#0000"},{"offset":0.6111,"color":"#0000"},
                  {"offset":0.6111,"color":"#404040"},{"offset":0.6153,"color":"#404040"},{"offset":0.6153,"color":"#0000"},{"offset":0.6389,"color":"#0000"},
                  {"offset":0.6389,"color":"#404040"},{"offset":0.6431,"color":"#404040"},{"offset":0.6431,"color":"#0000"},{"offset":0.6667,"color":"#0000"},
                  {"offset":0.6667,"color":"#404040"},{"offset":0.6709,"color":"#404040"},{"offset":0.6709,"color":"#0000"},{"offset":0.6944,"color":"#0000"},
                  {"offset":0.6944,"color":"#404040"},{"offset":0.6986,"color":"#404040"},{"offset":0.6986,"color":"#0000"},{"offset":0.7222,"color":"#0000"},
                  {"offset":0.7222,"color":"#404040"},{"offset":0.7264,"color":"#404040"},{"offset":0.7264,"color":"#0000"},{"offset":0.75,"color":"#0000"},
                  {"offset":0.75,"color":"#404040"},{"offset":0.7542,"color":"#404040"},{"offset":0.7542,"color":"#0000"},{"offset":0.7778,"color":"#0000"},
                  {"offset":0.7778,"color":"#404040"},{"offset":0.782,"color":"#404040"},{"offset":0.782,"color":"#0000"},{"offset":0.8056,"color":"#0000"},
                  {"offset":0.8056,"color":"#404040"},{"offset":0.8098,"color":"#404040"},{"offset":0.8098,"color":"#0000"},{"offset":0.8333,"color":"#0000"},
                  {"offset":0.8333,"color":"#404040"},{"offset":0.8375,"color":"#404040"},{"offset":0.8375,"color":"#0000"},{"offset":0.8611,"color":"#0000"},
                  {"offset":0.8611,"color":"#404040"},{"offset":0.8653,"color":"#404040"},{"offset":0.8653,"color":"#0000"},{"offset":0.8889,"color":"#0000"},
                  {"offset":0.8889,"color":"#404040"},{"offset":0.8931,"color":"#404040"},{"offset":0.8931,"color":"#0000"},{"offset":0.9167,"color":"#0000"},
                  {"offset":0.9167,"color":"#404040"},{"offset":0.9209,"color":"#404040"},{"offset":0.9209,"color":"#0000"},{"offset":0.9444,"color":"#0000"},
                  {"offset":0.9444,"color":"#404040"},{"offset":0.9486,"color":"#404040"},{"offset":0.9486,"color":"#0000"},{"offset":0.9722,"color":"#0000"},
                  {"offset":0.9722,"color":"#404040"},{"offset":0.9764,"color":"#404040"},{"offset":0.9764,"color":"#0000"},{"offset":1,"color":"#0000"}]}},
                {"test": "datum.category === '5 Strongly Agree'", "value": {"gradient": "linear", "x1": 0.242, "y1": 0.853, "x2": 0.778, "y2": -0.031, "stops": [
                  {"offset":0,"color":"#404040"},{"offset":0.0042,"color":"#404040"},{"offset":0.0042,"color":"#0000"},{"offset":0.0278,"color":"#0000"},
                  {"offset":0.0278,"color":"#404040"},{"offset":0.032,"color":"#404040"},{"offset":0.032,"color":"#0000"},{"offset":0.0556,"color":"#0000"},
                  {"offset":0.0556,"color":"#404040"},{"offset":0.0598,"color":"#404040"},{"offset":0.0598,"color":"#0000"},{"offset":0.0833,"color":"#0000"},
                  {"offset":0.0833,"color":"#404040"},{"offset":0.0875,"color":"#404040"},{"offset":0.0875,"color":"#0000"},{"offset":0.1111,"color":"#0000"},
                  {"offset":0.1111,"color":"#404040"},{"offset":0.1153,"color":"#404040"},{"offset":0.1153,"color":"#0000"},{"offset":0.1389,"color":"#0000"},
                  {"offset":0.1389,"color":"#404040"},{"offset":0.1431,"color":"#404040"},{"offset":0.1431,"color":"#0000"},{"offset":0.1667,"color":"#0000"},
                  {"offset":0.1667,"color":"#404040"},{"offset":0.1709,"color":"#404040"},{"offset":0.1709,"color":"#0000"},{"offset":0.1944,"color":"#0000"},
                  {"offset":0.1944,"color":"#404040"},{"offset":0.1986,"color":"#404040"},{"offset":0.1986,"color":"#0000"},{"offset":0.2222,"color":"#0000"},
                  {"offset":0.2222,"color":"#404040"},{"offset":0.2264,"color":"#404040"},{"offset":0.2264,"color":"#0000"},{"offset":0.25,"color":"#0000"},
                  {"offset":0.25,"color":"#404040"},{"offset":0.2542,"color":"#404040"},{"offset":0.2542,"color":"#0000"},{"offset":0.2778,"color":"#0000"},
                  {"offset":0.2778,"color":"#404040"},{"offset":0.282,"color":"#404040"},{"offset":0.282,"color":"#0000"},{"offset":0.3056,"color":"#0000"},
                  {"offset":0.3056,"color":"#404040"},{"offset":0.3098,"color":"#404040"},{"offset":0.3098,"color":"#0000"},{"offset":0.3333,"color":"#0000"},
                  {"offset":0.3333,"color":"#404040"},{"offset":0.3375,"color":"#404040"},{"offset":0.3375,"color":"#0000"},{"offset":0.3611,"color":"#0000"},
                  {"offset":0.3611,"color":"#404040"},{"offset":0.3653,"color":"#404040"},{"offset":0.3653,"color":"#0000"},{"offset":0.3889,"color":"#0000"},
                  {"offset":0.3889,"color":"#404040"},{"offset":0.3931,"color":"#404040"},{"offset":0.3931,"color":"#0000"},{"offset":0.4167,"color":"#0000"},
                  {"offset":0.4167,"color":"#404040"},{"offset":0.4209,"color":"#404040"},{"offset":0.4209,"color":"#0000"},{"offset":0.4444,"color":"#0000"},
                  {"offset":0.4444,"color":"#404040"},{"offset":0.4486,"color":"#404040"},{"offset":0.4486,"color":"#0000"},{"offset":0.4722,"color":"#0000"},
                  {"offset":0.4722,"color":"#404040"},{"offset":0.4764,"color":"#404040"},{"offset":0.4764,"color":"#0000"},{"offset":0.5,"color":"#0000"},
                  {"offset":0.5,"color":"#404040"},{"offset":0.5042,"color":"#404040"},{"offset":0.5042,"color":"#0000"},{"offset":0.5278,"color":"#0000"},
                  {"offset":0.5278,"color":"#404040"},{"offset":0.532,"color":"#404040"},{"offset":0.532,"color":"#0000"},{"offset":0.5556,"color":"#0000"},
                  {"offset":0.5556,"color":"#404040"},{"offset":0.5598,"color":"#404040"},{"offset":0.5598,"color":"#0000"},{"offset":0.5833,"color":"#0000"},
                  {"offset":0.5833,"color":"#404040"},{"offset":0.5875,"color":"#404040"},{"offset":0.5875,"color":"#0000"},{"offset":0.6111,"color":"#0000"},
                  {"offset":0.6111,"color":"#404040"},{"offset":0.6153,"color":"#404040"},{"offset":0.6153,"color":"#0000"},{"offset":0.6389,"color":"#0000"},
                  {"offset":0.6389,"color":"#404040"},{"offset":0.6431,"color":"#404040"},{"offset":0.6431,"color":"#0000"},{"offset":0.6667,"color":"#0000"},
                  {"offset":0.6667,"color":"#404040"},{"offset":0.6709,"color":"#404040"},{"offset":0.6709,"color":"#0000"},{"offset":0.6944,"color":"#0000"},
                  {"offset":0.6944,"color":"#404040"},{"offset":0.6986,"color":"#404040"},{"offset":0.6986,"color":"#0000"},{"offset":0.7222,"color":"#0000"},
                  {"offset":0.7222,"color":"#404040"},{"offset":0.7264,"color":"#404040"},{"offset":0.7264,"color":"#0000"},{"offset":0.75,"color":"#0000"},
                  {"offset":0.75,"color":"#404040"},{"offset":0.7542,"color":"#404040"},{"offset":0.7542,"color":"#0000"},{"offset":0.7778,"color":"#0000"},
                  {"offset":0.7778,"color":"#404040"},{"offset":0.782,"color":"#404040"},{"offset":0.782,"color":"#0000"},{"offset":0.8056,"color":"#0000"},
                  {"offset":0.8056,"color":"#404040"},{"offset":0.8098,"color":"#404040"},{"offset":0.8098,"color":"#0000"},{"offset":0.8333,"color":"#0000"},
                  {"offset":0.8333,"color":"#404040"},{"offset":0.8375,"color":"#404040"},{"offset":0.8375,"color":"#0000"},{"offset":0.8611,"color":"#0000"},
                  {"offset":0.8611,"color":"#404040"},{"offset":0.8653,"color":"#404040"},{"offset":0.8653,"color":"#0000"},{"offset":0.8889,"color":"#0000"},
                  {"offset":0.8889,"color":"#404040"},{"offset":0.8931,"color":"#404040"},{"offset":0.8931,"color":"#0000"},{"offset":0.9167,"color":"#0000"},
                  {"offset":0.9167,"color":"#404040"},{"offset":0.9209,"color":"#404040"},{"offset":0.9209,"color":"#0000"},{"offset":0.9444,"color":"#0000"},
                  {"offset":0.9444,"color":"#404040"},{"offset":0.9486,"color":"#404040"},{"offset":0.9486,"color":"#0000"},{"offset":0.9722,"color":"#0000"},
                  {"offset":0.9722,"color":"#404040"},{"offset":0.9764,"color":"#404040"},{"offset":0.9764,"color":"#0000"},{"offset":1,"color":"#0000"}]}}
              ],
              "value": "transparent"
            }
          }
        },
        {"mark": {"type": "arc", "outerRadius": 158, "fill": "transparent", "stroke": "#ffffff", "strokeWidth": 1.5}}
      ]
    },
    {
      "transform": [
        {"filter": "datum.share < 0.05"},
        {"calculate": "datum.rim_x + (datum.category === '1 Strongly Disagree' ? -83 : datum.category === '2 Disagree' ? 65 : 119)", "as": "bend_x"},
        {"calculate": "datum.rim_y + (datum.category === '1 Strongly Disagree' ? 17 : datum.category === '2 Disagree' ? 15 : -30)", "as": "bend_y"},
        {"calculate": "datum.label_x < datum.rim_x ? datum.label_x + datum.box_half : datum.label_x - datum.box_half", "as": "leader_end_x"}
      ],
      "layer": [
        {
          "mark": {"type": "rule", "color": "#7f7f7f", "strokeWidth": 1},
          "encoding": {
            "x": {"field": "rim_x", "type": "quantitative", "scale": {"domain": [-276, 483], "nice": false, "zero": false}, "axis": null},
            "y": {"field": "rim_y", "type": "quantitative", "scale": {"domain": [-177, 249], "nice": false, "zero": false}, "axis": null},
            "x2": {"field": "bend_x"},
            "y2": {"field": "bend_y"}
          }
        },
        {
          "mark": {"type": "rule", "color": "#7f7f7f", "strokeWidth": 1},
          "encoding": {
            "x": {"field": "bend_x", "type": "quantitative", "scale": {"domain": [-276, 483], "nice": false, "zero": false}, "axis": null},
            "y": {"field": "bend_y", "type": "quantitative", "scale": {"domain": [-177, 249], "nice": false, "zero": false}, "axis": null},
            "x2": {"field": "leader_end_x"},
            "y2": {"field": "bend_y"}
          }
        }
      ]
    },
    {
      "transform": [
        {"calculate": "datum.label_x - datum.box_half", "as": "box_x0"},
        {"calculate": "datum.label_x + datum.box_half", "as": "box_x1"},
        {"calculate": "datum.label_y - 16.5", "as": "box_y0"},
        {"calculate": "datum.label_y + 16.5", "as": "box_y1"}
      ],
      "encoding": {
        "x": {"field": "box_x0", "type": "quantitative", "scale": {"domain": [-276, 483], "nice": false, "zero": false}, "axis": null},
        "x2": {"field": "box_x1"},
        "y": {"field": "box_y0", "type": "quantitative", "scale": {"domain": [-177, 249], "nice": false, "zero": false}, "axis": null},
        "y2": {"field": "box_y1"}
      },
      "layer": [
        {"mark": {"type": "rect", "fill": "#000000", "fillOpacity": 0.22, "xOffset": 3, "x2Offset": 3, "yOffset": 4, "y2Offset": 4}},
        {"mark": {"type": "rect", "fill": "#404040"}}
      ]
    },
    {
      "mark": {"type": "text", "color": "#ffffff", "font": "Lato", "fontSize": 20, "fontWeight": "bold", "align": "center", "baseline": "middle"},
      "encoding": {
        "x": {"field": "label_x", "type": "quantitative", "scale": {"domain": [-276, 483], "nice": false, "zero": false}, "axis": null},
        "y": {"field": "label_y", "type": "quantitative", "scale": {"domain": [-177, 249], "nice": false, "zero": false}, "axis": null},
        "text": {"field": "share", "type": "quantitative", "format": ".1%"}
      }
    }
  ]
}
